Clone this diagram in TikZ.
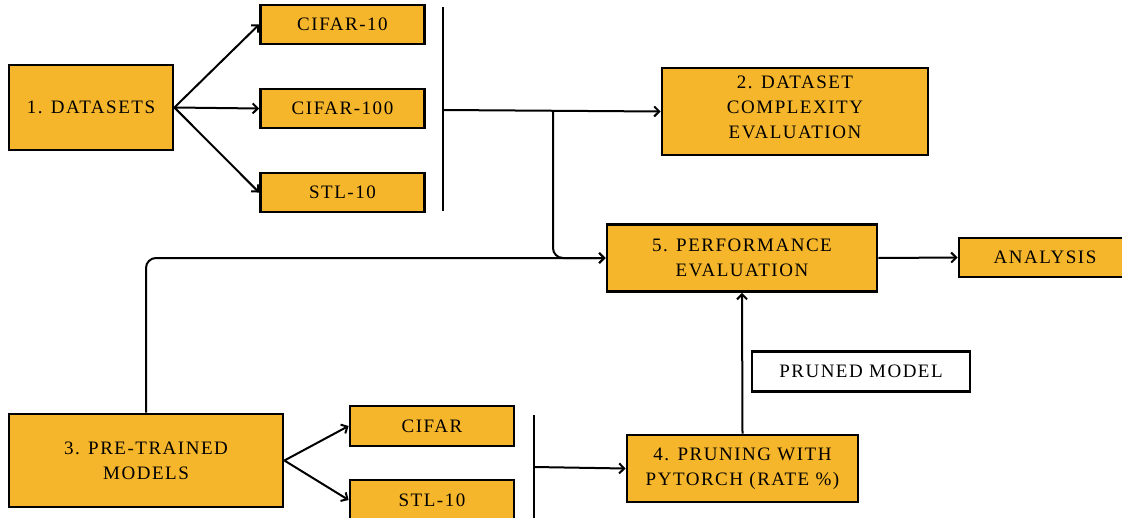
\documentclass[tikz,border=0pt]{standalone}
\usepackage{fontspec}
\setmainfont{Liberation Serif}[LetterSpace=8]
\usepackage{xcolor}
\usetikzlibrary{arrows.meta}
\definecolor{stagefill}{RGB}{246,182,43}
\tikzset{
	stage/.style={draw,line width=2.8pt,fill=stagefill,inner sep=0pt,align=center},%
	datasetbox/.style={stage,minimum width=164pt,minimum height=39pt},%
	note/.style={draw,line width=2.8pt,fill=white,inner sep=0pt,minimum width=218pt,minimum height=40pt},%
	link/.style={line width=2pt,-{Straight Barb[length=5pt,width=10pt,line width=2pt]}},%
	bar/.style={line width=2pt},%
}
\def\midY{258}

\begin{document}
\begin{tikzpicture}[x=1pt,y=-1pt,font=\fontsize{19}{25}\selectfont]
		\useasboundingbox (0,0) rectangle (1122,517);
		% datasets
		\node[stage,minimum width=164pt,minimum height=85pt] (datasets) at (91,107.5) {1. DATASETS};
		\node[datasetbox] (cifarten) at (342.5,24.5) {CIFAR-10};
		\node[datasetbox] (cifarhundred) at (342.5,108.5) {CIFAR-100};
		\node[datasetbox] (stlten) at (342.5,192.5) {STL-10};
		\draw[link] (datasets.east) -- (cifarten.west);
		\draw[link] (datasets.east) -- (cifarhundred.west);
		\draw[link] (datasets.east) -- (stlten.west);
		\coordinate (topbar top) at (443,7);
		\coordinate (topbar bottom) at (443,211);
		\coordinate (topbar mid) at (443,110);
		\coordinate (branch) at (553,110);
		\draw[bar] (topbar top) -- (topbar bottom);
		% complexity + performance
		\node[stage,minimum width=266pt,minimum height=87pt] (complexity) at (795,111.5) {2. DATASET\\COMPLEXITY\\EVALUATION\\[-17pt]};
		\node[stage,minimum width=270pt,minimum height=67pt] (performance) at (742,\midY) {5. PERFORMANCE\\EVALUATION};
		\node[stage,minimum width=172pt,minimum height=39pt] (analysis) at (1045,257.5) {ANALYSIS};
		\draw[link] (topbar mid) -- (complexity.west);
		\draw[link,rounded corners=10pt] (branch) |- (performance.west);
		\draw[link] (performance.east) -- (analysis.west);
		% models
		\node[stage,minimum width=274pt,minimum height=93pt] (models) at (146,460.5) {3. PRE-TRAINED\\MODELS};
		\node[datasetbox,minimum height=40pt] (cifar) at (432,426) {CIFAR};
		\node[datasetbox,minimum height=40pt] (stl) at (432,500) {STL-10};
		\draw[link] (models.east) -- (cifar.west);
		\draw[link] (models.east) -- (stl.west);
		\draw[link,rounded corners=10pt] (models.north) |- (performance.west);
		\coordinate (lowbar top) at (534,415);
		\coordinate (lowbar bottom) at (534,520);
		\coordinate (lowbar mid) at (534,467);
		\draw[bar] (lowbar top) -- (lowbar bottom);
		% pruning
		\node[stage,minimum width=231pt,minimum height=67pt] (pruning) at (742.5,468.5) {4. PRUNING WITH\\PYTORCH (RATE \%)};
		\node[note] (pruned) at (861,371.5) {PRUNED MODEL};
		\draw[link] (lowbar mid) -- (pruning.west);
		\draw[link] (pruning.north) -- (performance.south);
	\end{tikzpicture}
\end{document}
